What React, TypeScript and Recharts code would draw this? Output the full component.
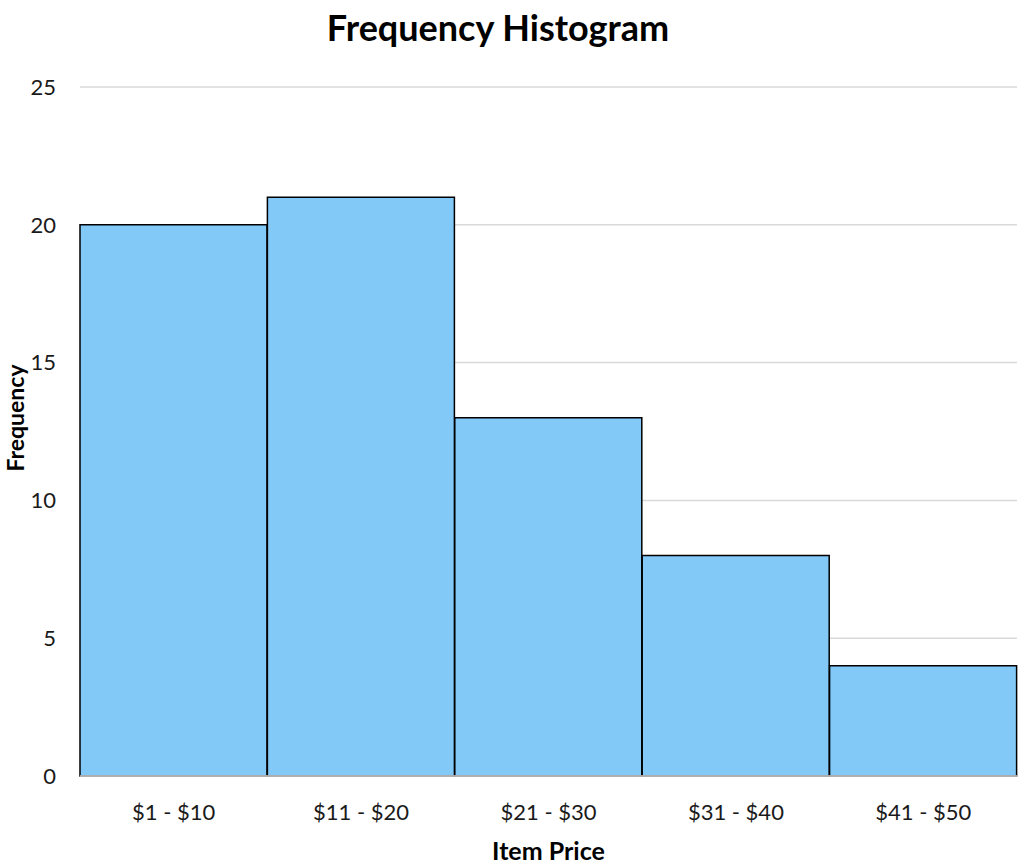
import React from 'react';
import { BarChart, Bar, XAxis, YAxis, CartesianGrid, Label } from 'recharts';

const priceRanges = ['$1 - $10', '$11 - $20', '$21 - $30', '$31 - $40', '$41 - $50'];
const frequencies = [20, 21, 13, 8, 4];
const yTicks = [0, 5, 10, 15, 20, 25];

const data = priceRanges.map((range, i) => ({ range, frequency: frequencies[i] }));

const FONT = 'Lato, "Open Sans", sans-serif';

// rotated y axis title, sits at the far left edge like the original
function YAxisTitle() {
  const cx = 15;
  const cy = 418;
  return (
    <text
      x={cx}
      y={cy}
      transform={`rotate(-90 ${cx} ${cy})`}
      textAnchor="middle"
      dominantBaseline="central"
      fontFamily={FONT}
      fontWeight={700}
      fontSize={23}
      fill="#000"
    >
      Frequency
    </text>
  );
}

export default function App() {
  return (
    <div style={{ position: 'absolute', left: 0, top: 0, width: 1028, height: 866, background: '#fff', fontFamily: FONT }}>
      <div
        style={{
          position: 'absolute',
          left: 0,
          width: 996,
          top: 5,
          textAlign: 'center',
          fontSize: 36,
          fontWeight: 700,
          color: '#000',
          lineHeight: '44px',
        }}
      >
        Frequency Histogram
      </div>
      <BarChart
        width={1028}
        height={866}
        data={data}
        margin={{ top: 87, right: 11, left: 0, bottom: 0 }}
        barCategoryGap={0}
      >
        <CartesianGrid vertical={false} stroke="#d9d9d9" strokeWidth={1.5} />
        <XAxis
          dataKey="range"
          axisLine={{ stroke: '#d9d9d9', strokeWidth: 1.5 }}
          tickLine={false}
          tickMargin={22}
          tick={{ fontSize: 22, fill: '#1a1a1a', fontFamily: FONT }}
          height={90}
        >
          <Label
            value="Item Price"
            position="insideBottom"
            offset={0}
            dy={-6}
            style={{ fontSize: 25, fontWeight: 700, fill: '#000', fontFamily: FONT }}
          />
        </XAxis>
        <YAxis
          width={80}
          domain={[0, 25]}
          ticks={yTicks}
          axisLine={false}
          tickLine={false}
          tickSize={0}
          tickMargin={24}
          tick={{ fontSize: 22, fill: '#1a1a1a', fontFamily: FONT }}
        >
          <Label content={YAxisTitle} />
        </YAxis>
        <Bar
          dataKey="frequency"
          fill="#83C9F8"
          stroke="#000"
          strokeWidth={1.5}
          isAnimationActive={false}
        />
      </BarChart>
    </div>
  );
}
